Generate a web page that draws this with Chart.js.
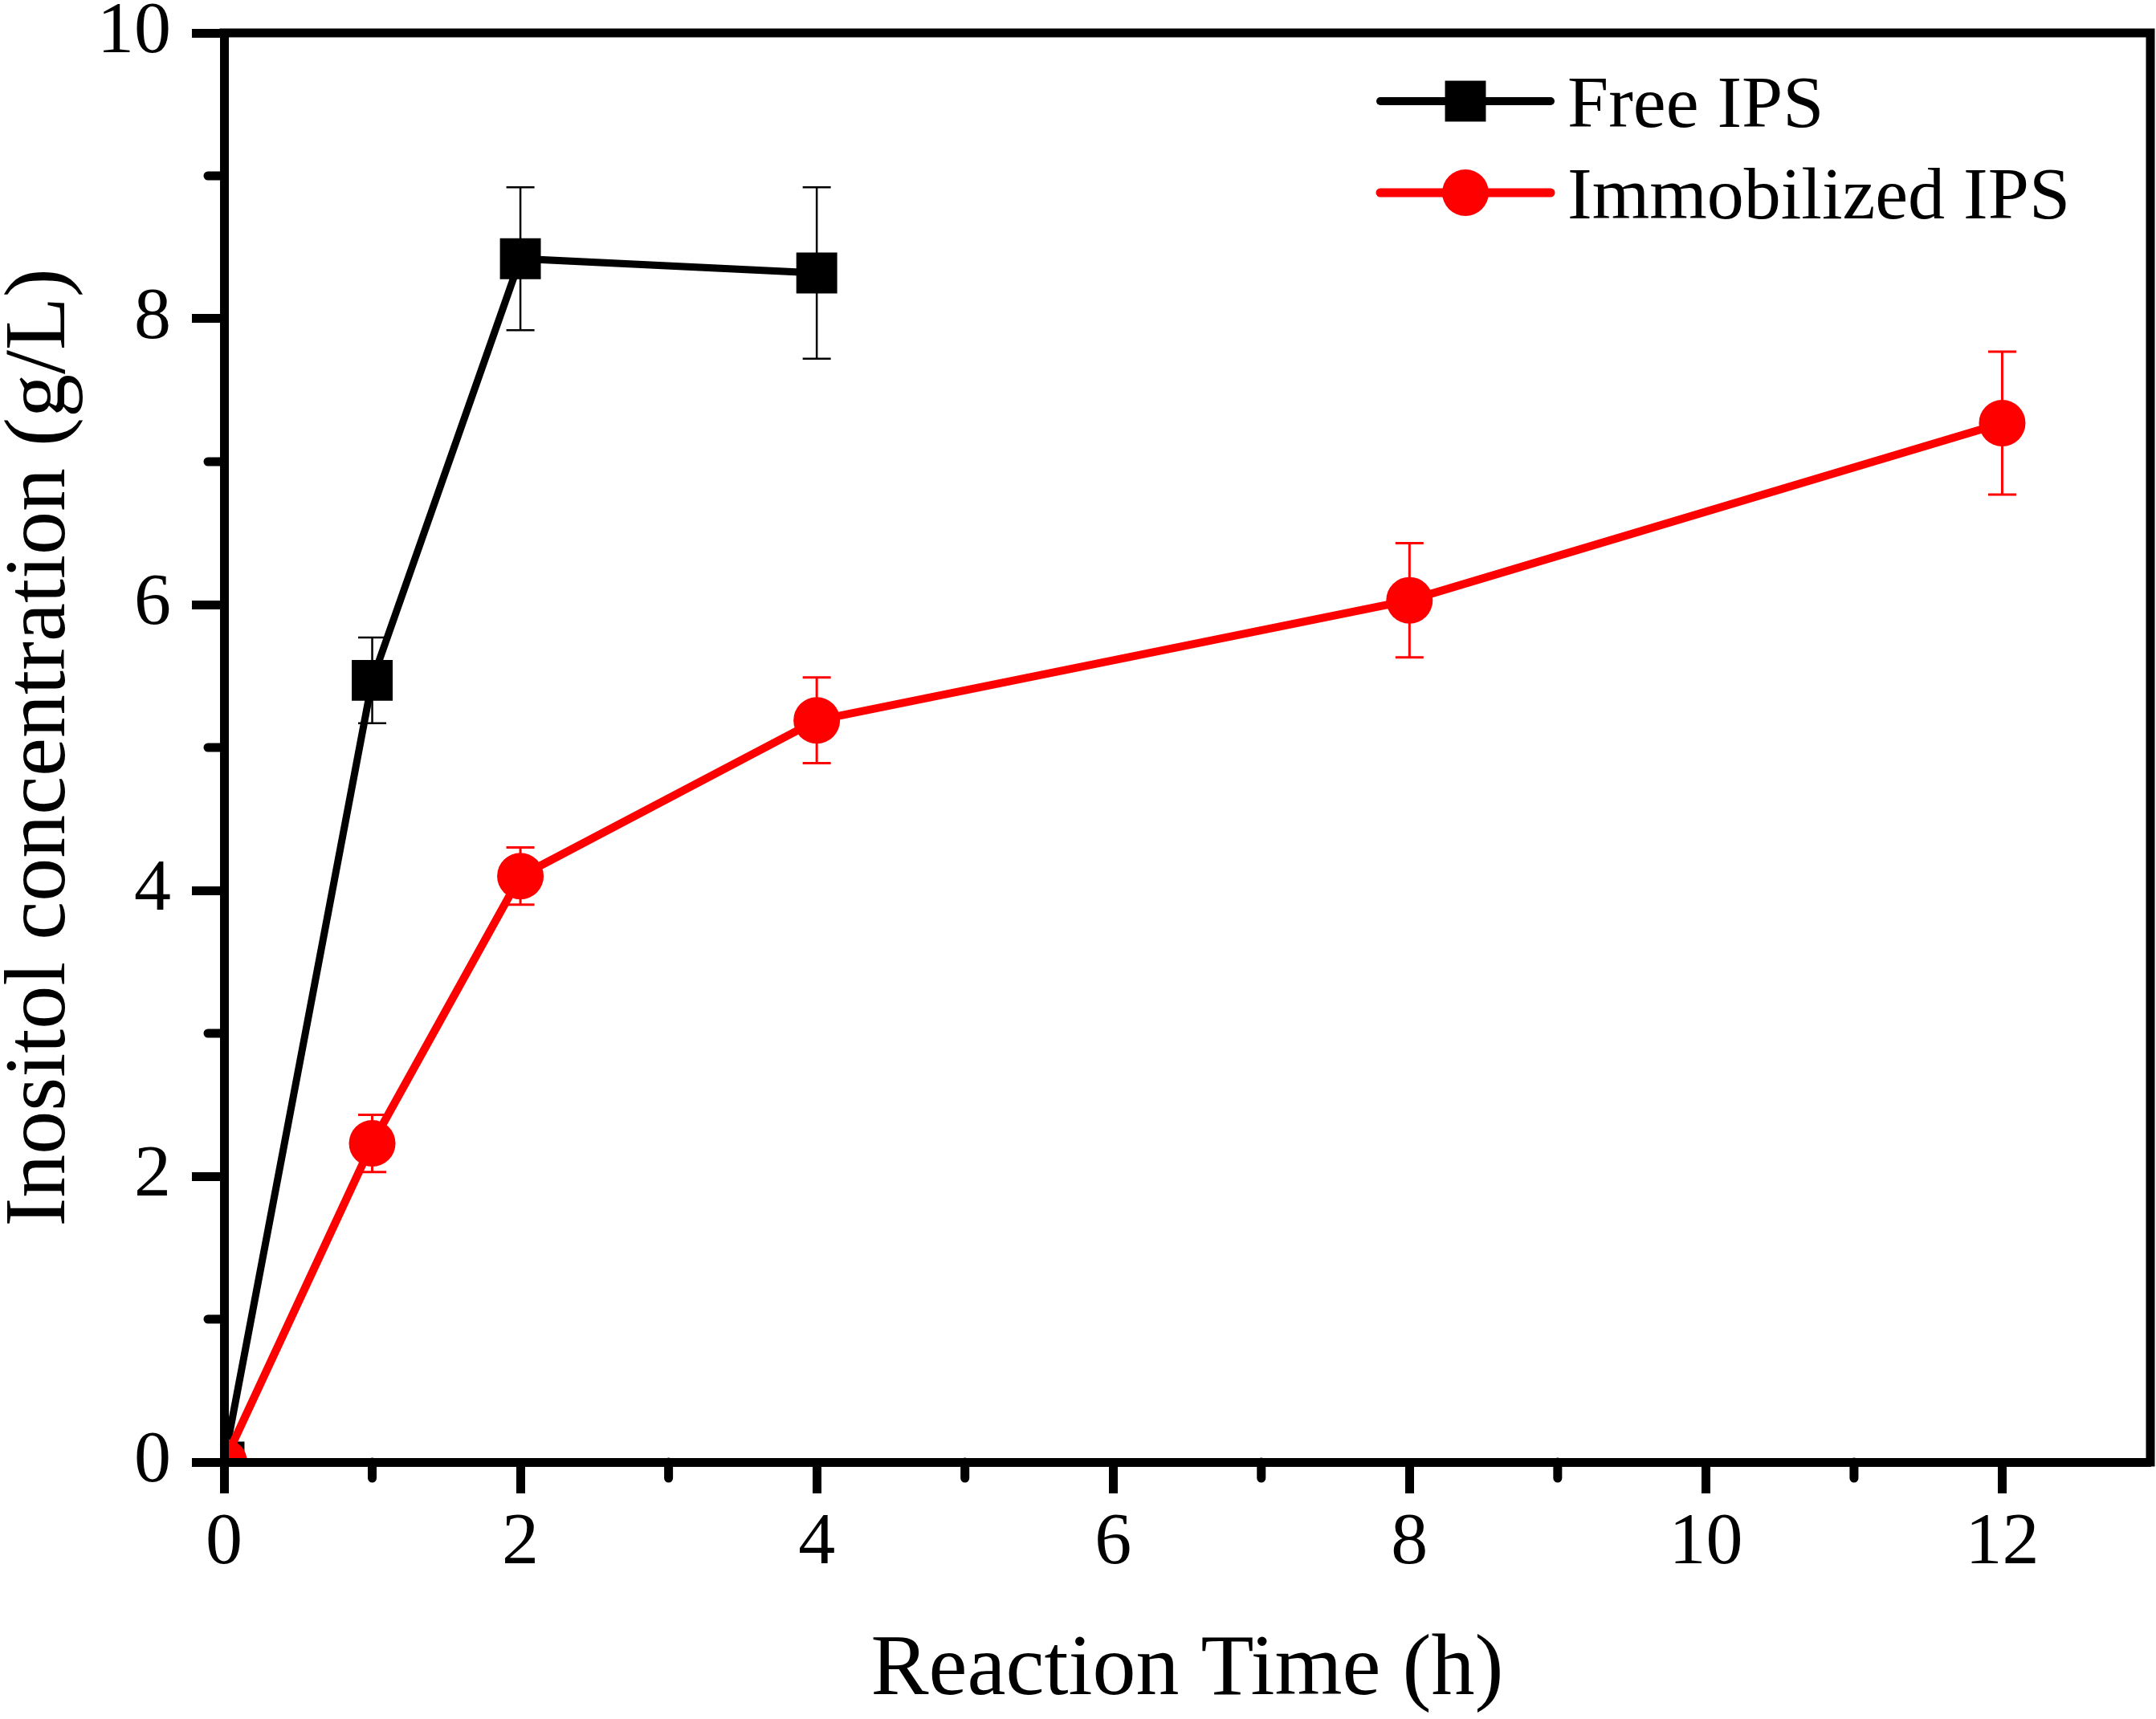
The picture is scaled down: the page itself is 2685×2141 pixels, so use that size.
<!DOCTYPE html>
<html>
<head>
<meta charset="utf-8">
<script src="https://cdn.jsdelivr.net/npm/chart.js@4.4.1/dist/chart.umd.min.js"></script>
<style>
  html, body { margin: 0; padding: 0; background: #ffffff; }
  #wrap { width: 2685px; height: 2141px; position: relative; }
  canvas { display: block; }
</style>
</head>
<body>
<div id="wrap"><canvas id="c" width="2685" height="2141"></canvas></div>
<script>
// ---- data ----
const seriesLabels = ['Free IPS', 'Immobilized IPS'];
const timesFree = [0, 1, 2, 4];
const valuesFree = [0, 5.47, 8.42, 8.32];
const errorsFree = [0, 0.3, 0.5, 0.6];
const timesImmob = [0, 1, 2, 4, 8, 12];
const valuesImmob = [0, 2.23, 4.10, 5.19, 6.03, 7.27];
const errorsImmob = [0, 0.2, 0.2, 0.3, 0.4, 0.5];
const xMinorTicks = [1, 3, 5, 7, 9, 11];
const yMinorTicks = [1, 3, 5, 7, 9];
const xTitle = 'Reaction Time (h)';
const yTitle = 'Inositol concentration (g/L)';

const FONT = '"Liberation Serif", "Times New Roman", serif';
const AXIS_W = 11;

function toPoints(xs, ys) { return xs.map((x, i) => ({ x: x, y: ys[i] })); }

const errorBarPlugin = {
  id: 'errorBars',
  beforeDatasetsDraw(chart) {
    const ctx = chart.ctx, xs = chart.scales.x, ys = chart.scales.y;
    chart.data.datasets.forEach(ds => {
      const errs = ds.errors || [];
      ctx.save();
      ctx.strokeStyle = ds.borderColor;
      ctx.lineWidth = ds.errorWidth || 3;
      ds.data.forEach((p, i) => {
        const e = errs[i];
        if (!e) return;
        const px = xs.getPixelForValue(p.x);
        const top = ys.getPixelForValue(p.y + e);
        const bot = ys.getPixelForValue(p.y - e);
        const cap = 17.5;
        ctx.beginPath();
        ctx.moveTo(px, top); ctx.lineTo(px, bot);
        ctx.moveTo(px - cap, top); ctx.lineTo(px + cap, top);
        ctx.moveTo(px - cap, bot); ctx.lineTo(px + cap, bot);
        ctx.stroke();
      });
      ctx.restore();
    });
  }
};

const framePlugin = {
  id: 'frame',
  afterDatasetsDraw(chart) {
    const ctx = chart.ctx, a = chart.chartArea;
    const xs = chart.scales.x, ys = chart.scales.y;
    ctx.save();
    ctx.strokeStyle = '#000';
    ctx.lineWidth = AXIS_W;
    ctx.lineCap = 'square';
    ctx.beginPath();
    ctx.moveTo(a.left, a.top); ctx.lineTo(a.right, a.top); ctx.lineTo(a.right, a.bottom);
    ctx.stroke();
    // minor ticks
    ctx.lineCap = 'round';
    ctx.beginPath();
    xMinorTicks.forEach(v => {
      const px = xs.getPixelForValue(v);
      ctx.moveTo(px, a.bottom); ctx.lineTo(px, a.bottom + 20);
    });
    yMinorTicks.forEach(v => {
      const py = ys.getPixelForValue(v);
      ctx.moveTo(a.left, py); ctx.lineTo(a.left - 20, py);
    });
    ctx.stroke();
    ctx.restore();
  }
};

const legendPlugin = {
  id: 'customLegend',
  afterDraw(chart) {
    const ctx = chart.ctx;
    const lineX1 = 1719, lineX2 = 1931, textX = 1952;
    const rowsY = [126, 240];
    const baseOff = 32;
    chart.data.datasets.forEach(ds => {
      const row = seriesLabels.indexOf(ds.label);
      const y = rowsY[row];
      const cx = (lineX1 + lineX2) / 2;
      ctx.save();
      ctx.strokeStyle = ds.borderColor;
      ctx.lineWidth = ds.borderWidth + 1;
      ctx.lineCap = 'round';
      ctx.beginPath(); ctx.moveTo(lineX1, y); ctx.lineTo(lineX2, y); ctx.stroke();
      ctx.fillStyle = ds.pointBackgroundColor;
      if (ds.pointStyle === 'rect') {
        const s = ds.pointRadius * Math.SQRT1_2;
        ctx.fillRect(cx - s, y - s, 2 * s, 2 * s);
      } else {
        ctx.beginPath(); ctx.arc(cx, y, ds.pointRadius, 0, Math.PI * 2); ctx.fill();
      }
      ctx.fillStyle = '#000';
      ctx.font = '92px ' + FONT;
      ctx.textBaseline = 'alphabetic';
      ctx.textAlign = 'left';
      ctx.fillText(ds.label, textX, y + baseOff);
      ctx.restore();
    });
  }
};

const ctx = document.getElementById('c').getContext('2d');
new Chart(ctx, {
  type: 'line',
  data: {
    datasets: [
      {
        label: seriesLabels[1],
        data: toPoints(timesImmob, valuesImmob),
        errors: errorsImmob,
        errorWidth: 3,
        borderColor: '#ff0000',
        backgroundColor: '#ff0000',
        pointBackgroundColor: '#ff0000',
        pointBorderColor: '#ff0000',
        pointBorderWidth: 0,
        pointStyle: 'circle',
        pointRadius: 29,
        pointHoverRadius: 29,
        borderWidth: 10,
        tension: 0,
        clip: 0,
        order: 0
      },
      {
        label: seriesLabels[0],
        data: toPoints(timesFree, valuesFree),
        errors: errorsFree,
        errorWidth: 2.5,
        borderColor: '#000000',
        backgroundColor: '#000000',
        pointBackgroundColor: '#000000',
        pointBorderColor: '#000000',
        pointBorderWidth: 0,
        pointStyle: 'rect',
        pointRadius: 36,
        pointHoverRadius: 36,
        borderWidth: 9,
        tension: 0,
        clip: 0,
        order: 1
      }
    ]
  },
  options: {
    responsive: false,
    devicePixelRatio: 1,
    animation: false,
    events: [],
    layout: { autoPadding: false, padding: { top: 41, right: 7, left: 0, bottom: 0 } },
    plugins: {
      legend: { display: false },
      tooltip: { enabled: false },
      title: { display: false }
    },
    scales: {
      x: {
        type: 'linear',
        position: 'bottom',
        min: 0,
        max: 13,
        afterFit(scale) { scale.height = 320; scale.paddingLeft = 0; scale.paddingRight = 0; },
        ticks: {
          stepSize: 2,
          includeBounds: false,
          color: '#000',
          padding: 8,
          maxRotation: 0,
          font: { family: FONT, size: 92 }
        },
        grid: {
          drawOnChartArea: false,
          drawTicks: true,
          tickLength: 39,
          tickWidth: AXIS_W,
          tickColor: '#000'
        },
        border: { display: true, color: '#000', width: AXIS_W, z: 1 },
        title: {
          display: true,
          text: xTitle,
          color: '#000',
          font: { family: FONT, size: 108, lineHeight: 1 },
          padding: { top: 0, bottom: 5 }
        }
      },
      y: {
        type: 'linear',
        position: 'left',
        min: 0,
        max: 10,
        afterFit(scale) { scale.width = 279; scale.paddingTop = 0; scale.paddingBottom = 0; },
        ticks: {
          stepSize: 2,
          includeBounds: false,
          color: '#000',
          padding: 26,
          font: { family: FONT, size: 92 }
        },
        grid: {
          drawOnChartArea: false,
          drawTicks: true,
          tickLength: 40,
          tickWidth: AXIS_W,
          tickColor: '#000'
        },
        border: { display: true, color: '#000', width: AXIS_W, z: 1 },
        title: {
          display: true,
          text: yTitle,
          color: '#000',
          font: { family: FONT, size: 108, lineHeight: 1 },
          padding: { top: -2, bottom: 0 }
        }
      }
    }
  },
  plugins: [errorBarPlugin, framePlugin, legendPlugin]
});
</script>
</body>
</html>
